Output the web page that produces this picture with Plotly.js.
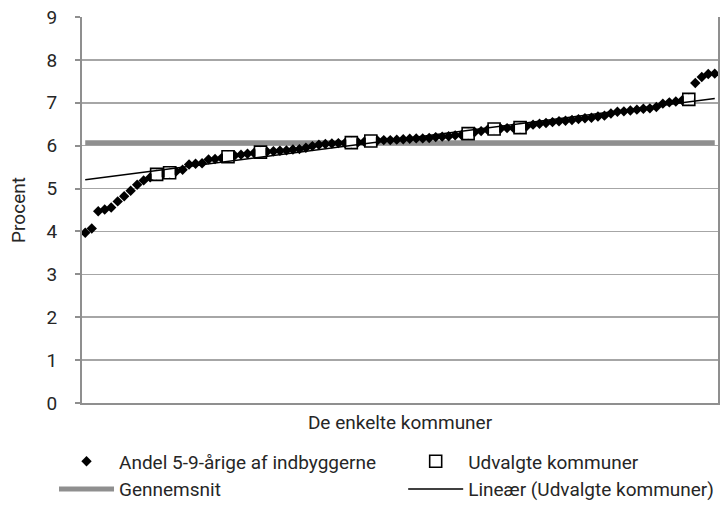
<!DOCTYPE html>
<html><head><meta charset="utf-8">
<script src="https://cdn.plot.ly/plotly-3.0.1.min.js"></script>
<style>html,body{margin:0;padding:0;background:#fff}#chart{width:720px;height:506px}</style>
</head><body><div id="chart"></div>
<script>
// Andel 5-9-årige af indbyggerne (procent), kommuner sorteret stigende
const andel = [
  3.97, 4.07, 4.47, 4.51, 4.56, 4.70, 4.82, 4.95, 5.09, 5.19,
  5.26, 5.33, 5.35, 5.37, 5.40, 5.44, 5.56, 5.58, 5.59, 5.68,
  5.69, 5.71, 5.74, 5.77, 5.79, 5.81, 5.83, 5.85, 5.86, 5.87,
  5.88, 5.89, 5.91, 5.92, 5.95, 5.99, 6.02, 6.04, 6.05, 6.06,
  6.06, 6.07, 6.08, 6.09, 6.11, 6.12, 6.13, 6.13, 6.14, 6.15,
  6.16, 6.17, 6.17, 6.18, 6.20, 6.21, 6.22, 6.24, 6.25, 6.28,
  6.32, 6.34, 6.37, 6.39, 6.40, 6.41, 6.41, 6.42, 6.45, 6.49,
  6.51, 6.53, 6.55, 6.57, 6.58, 6.60, 6.62, 6.64, 6.65, 6.68,
  6.70, 6.75, 6.79, 6.80, 6.82, 6.84, 6.86, 6.87, 6.90, 6.98,
  7.01, 7.03, 7.06, 7.08, 7.46, 7.60, 7.67, 7.68
];
// positions (0-based) of the selected municipalities
const udvalgteIdx = [11, 13, 22, 27, 41, 44, 59, 63, 67, 93];
const gennemsnitVal = 6.07;
const yTickVals = [0, 1, 2, 3, 4, 5, 6, 7, 8, 9];

const names = {
  andel: 'Andel 5-9-årige af indbyggerne',
  udv: 'Udvalgte kommuner',
  gns: 'Gennemsnit',
  lin: 'Lineær (Udvalgte kommuner)'
};

const xAll = andel.map((_, i) => i + 1);
const xSel = udvalgteIdx.map(i => i + 1);
const ySel = udvalgteIdx.map(i => andel[i]);
const gnsY = xAll.map(() => gennemsnitVal);

// least-squares linear trendline through the selected municipalities
const n = xSel.length;
const mx = xSel.reduce((a, b) => a + b, 0) / n;
const my = ySel.reduce((a, b) => a + b, 0) / n;
let sxy = 0, sxx = 0;
for (let i = 0; i < n; i++) { sxy += (xSel[i] - mx) * (ySel[i] - my); sxx += (xSel[i] - mx) ** 2; }
const slope = sxy / sxx, icpt = my - slope * mx;
const trendX = [xAll[0], xAll[xAll.length - 1]];
const trendY = trendX.map(x => icpt + slope * x);

const FONT = 'Roboto, "Open Sans", sans-serif';
const TXT = '#262626';
const FS = 19;

const data = [
  { x: xAll, y: gnsY, type: 'scatter', mode: 'lines', name: names.gns,
    line: { color: '#8f8f8f', width: 5 }, legend: 'legend', legendrank: 2 },
  { x: xAll, y: andel, type: 'scatter', mode: 'markers', name: names.andel,
    marker: { symbol: 'diamond', size: 8, color: '#000' }, legend: 'legend', legendrank: 1 },
  { x: xSel, y: ySel, type: 'scatter', mode: 'markers', showlegend: false, hoverinfo: 'skip',
    marker: { symbol: 'square', size: 10, color: '#fff' } },
  { x: xSel, y: ySel, type: 'scatter', mode: 'markers', name: names.udv,
    marker: { symbol: 'square-open', size: 12, color: '#000', line: { width: 1.6 } },
    legend: 'legend2', legendrank: 1 },
  { x: trendX, y: trendY, type: 'scatter', mode: 'lines', name: names.lin,
    line: { color: '#000', width: 1.5 }, legend: 'legend2', legendrank: 2 }
];

const layout = {
  width: 720, height: 506,
  margin: { l: 82, r: 2, t: 17, b: 103, autoexpand: false },
  paper_bgcolor: '#fff', plot_bgcolor: '#fff',
  font: { family: FONT, size: FS, color: TXT },
  showlegend: true,
  xaxis: {
    range: [0.5, andel.length + 0.5],
    showticklabels: false, ticks: '', showgrid: false, zeroline: false,
    showline: true, linecolor: '#8f8f8f', linewidth: 2,
    title: { text: 'De enkelte kommuner', standoff: 12, font: { size: FS } },
    automargin: false
  },
  yaxis: {
    range: [0, 9], tickvals: yTickVals, ticktext: yTickVals.map(String),
    ticklabelstandoff: 14,
    ticks: 'outside', ticklen: 5, tickcolor: '#8f8f8f', tickwidth: 2,
    showgrid: true, gridcolor: '#a6a6a6', gridwidth: 1.5,
    zeroline: false, showline: true, linecolor: '#8f8f8f', linewidth: 2, mirror: true,
    title: { text: 'Procent', standoff: 16, font: { size: FS } },
    automargin: false
  },
  legend: {
    orientation: 'v', x: -0.044, xanchor: 'left', y: -0.102, yanchor: 'top',
    itemwidth: 55,
    font: { size: FS, color: TXT }, bgcolor: 'rgba(0,0,0,0)', tracegroupgap: 0
  },
  legend2: {
    orientation: 'v', x: 0.505, xanchor: 'left', y: -0.102, yanchor: 'top',
    itemwidth: 55,
    font: { size: FS, color: TXT }, bgcolor: 'rgba(0,0,0,0)', tracegroupgap: 0
  }
};

Plotly.newPlot('chart', data, layout, { staticPlot: true, displayModeBar: false });
</script>
</body></html>
